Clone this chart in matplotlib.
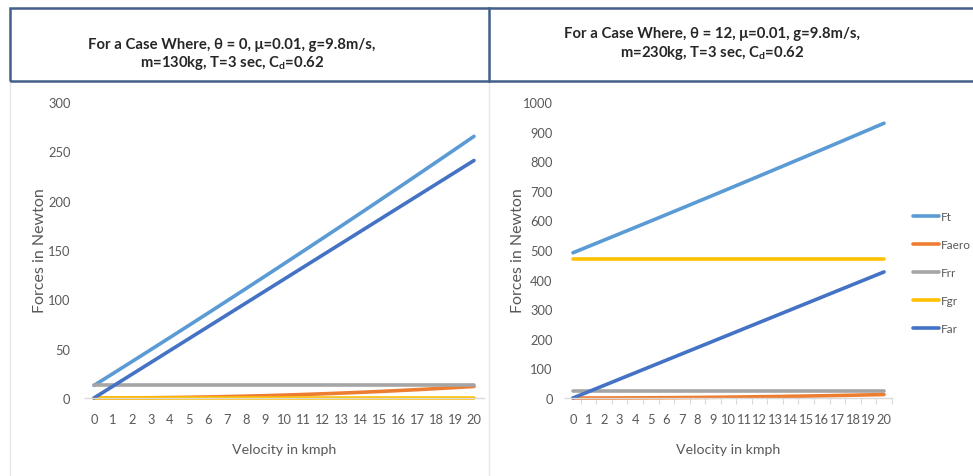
import matplotlib
matplotlib.use("Agg")
import matplotlib.pyplot as plt
from matplotlib.patches import Rectangle
from matplotlib.lines import Line2D
from matplotlib.ticker import FixedLocator

plt.rcParams['font.family'] = ['Lato', 'DejaVu Sans']
plt.rcParams['mathtext.fontset'] = 'custom'
plt.rcParams['mathtext.rm'] = 'Lato'
plt.rcParams['mathtext.bf'] = 'Lato:bold'

# Velocity in kmph (category axis)
velocity = list(range(0, 21))

# Case 1: theta = 0, m = 130 kg
ft_1 = [12.74, 24.81, 36.93, 49.11, 61.36, 73.66, 86.01, 98.44, 110.92, 123.44,
        136.04, 148.70, 161.40, 174.17, 187.00, 199.89, 212.83, 225.84, 238.90,
        252.02, 265.20]
faero_1 = [0.00, 0.03, 0.12, 0.26, 0.47, 0.73, 1.05, 1.44, 1.88, 2.37, 2.93,
           3.55, 4.22, 4.95, 5.74, 6.59, 7.50, 8.47, 9.49, 10.58, 11.72]
frr_1 = [12.74] * 21
fgr_1 = [0.0] * 21
far_1 = [0.00, 12.04, 24.07, 36.11, 48.15, 60.19, 72.22, 84.26, 96.30, 108.33,
         120.37, 132.41, 144.44, 156.48, 168.52, 180.56, 192.59, 204.63, 216.67,
         228.70, 240.74]

# Case 2: theta = 12, m = 230 kg
ft_2 = [490.67, 512.00, 533.38, 554.82, 576.33, 597.88, 619.50, 641.18, 662.92,
        684.71, 706.56, 728.48, 750.45, 772.47, 794.56, 816.70, 838.91, 861.18,
        883.49, 905.88, 928.32]
faero_2 = [0.00, 0.03, 0.12, 0.26, 0.47, 0.73, 1.05, 1.44, 1.88, 2.37, 2.93,
           3.55, 4.22, 4.95, 5.74, 6.59, 7.50, 8.47, 9.49, 10.58, 11.72]
frr_2 = [22.05] * 21
fgr_2 = [468.62] * 21
far_2 = [0.00, 21.30, 42.59, 63.89, 85.19, 106.48, 127.78, 149.07, 170.37,
         191.67, 212.96, 234.26, 255.56, 276.85, 298.15, 319.44, 340.74, 362.04,
         383.33, 404.63, 425.93]

series_names = ["Ft", "Faero", "Frr", "Fgr", "Far"]
series_colors = ["#5B9BD5", "#ED7D31", "#A5A5A5", "#FFC000", "#4472C4"]

title_1 = ["For a Case Where, \u03b8 = 0, \u03bc=0.01, g=9.8m/s,",
           r"m=130kg, T=3 sec, C$_{\mathbf{d}}$=0.62"]
title_2 = ["For a Case Where, \u03b8 = 12, \u03bc=0.01, g=9.8m/s,",
           r"m=230kg, T=3 sec, C$_{\mathbf{d}}$=0.62"]

W, H = 973, 477
fig = plt.figure(figsize=(W / 100, H / 100), dpi=100)
fig.patch.set_facecolor("white")

TXT = "#595959"
AXC = "#D9D9D9"
HDR = "#44608A"


def px_axes(x0, y_top, x1, y_bot):
    return fig.add_axes([x0 / W, 1 - y_bot / H, (x1 - x0) / W, (y_bot - y_top) / H])


def fx(x):
    return x / W


def fy(y):
    return 1 - y / H


# Header boxes
fig.patches.append(Rectangle((fx(10), fy(82)), fx(975) - fx(10), fy(9) - fy(82),
                             transform=fig.transFigure, fill=False,
                             edgecolor=HDR, linewidth=1.8, zorder=5))
fig.lines.append(Line2D([fx(489), fx(489)], [fy(9), fy(82)],
                        transform=fig.transFigure, color=HDR, linewidth=1.8, zorder=5))
# Panel separators below header
fig.lines.append(Line2D([fx(10), fx(10)], [fy(82), 0], transform=fig.transFigure,
                        color="#E6E6E6", linewidth=1.0))
fig.lines.append(Line2D([fx(489), fx(489)], [fy(82), 0], transform=fig.transFigure,
                        color="#E6E6E6", linewidth=1.0))

for (cx, y1, y2), lines in zip([(232, 45, 63), (712, 34, 53)], [title_1, title_2]):
    fig.text(fx(cx), fy(y1), lines[0], ha="center", va="center",
             fontsize=10.7, fontweight="bold", color="#262626")
    fig.text(fx(cx), fy(y2), lines[1], ha="center", va="center",
             fontsize=10.7, fontweight="bold", color="#262626")


def style_axes(ax, ymax, ystep, ypad, minor_ticks, ylab_x):
    ax.set_xlim(-0.5, 20.5)
    ax.set_ylim(0, ymax)
    ax.set_xticks(velocity)
    ax.set_xticklabels([str(v) for v in velocity])
    ax.set_yticks(list(range(0, ymax + 1, ystep)))
    for s in ["top", "right", "left"]:
        ax.spines[s].set_visible(False)
    ax.spines["bottom"].set_color(AXC)
    ax.spines["bottom"].set_linewidth(1.0)
    ax.tick_params(axis="x", length=0, pad=11, labelsize=9.3, labelcolor=TXT)
    ax.tick_params(axis="y", length=0, pad=ypad, labelsize=9.3, labelcolor=TXT)
    if minor_ticks:
        ax.xaxis.set_minor_locator(FixedLocator([v + 0.5 for v in velocity]))
        ax.tick_params(axis="x", which="minor", length=4, width=0.8, color=AXC)
    ax.set_xlabel("Velocity in kmph", fontsize=10.2, color=TXT)
    ax.xaxis.set_label_coords(0.5, -0.152)
    ax.set_ylabel("Forces in Newton", fontsize=11.5, color=TXT)
    ax.yaxis.label.set_verticalalignment("center")
    ax.yaxis.set_label_coords(ylab_x, 0.5)


# Left chart
ax1 = px_axes(84.5, 103, 483.5, 399)
for vals, name, col in zip([ft_1, faero_1, frr_1, fgr_1, far_1], series_names, series_colors):
    ax1.plot(velocity, vals, color=col, linewidth=2.6, label=name,
             solid_capstyle="round", clip_on=False)
style_axes(ax1, 300, 50, 10, False, -0.112)

# Right chart
ax2 = px_axes(565.2, 103, 891.8, 399)
for vals, name, col in zip([ft_2, faero_2, frr_2, fgr_2, far_2], series_names, series_colors):
    ax2.plot(velocity, vals, color=col, linewidth=2.6, label=name,
             solid_capstyle="round", clip_on=False)
style_axes(ax2, 1000, 100, 9, True, -0.145)

leg = ax2.legend(loc="upper left", bbox_to_anchor=(fx(913), fy(212)),
                 bbox_transform=fig.transFigure, frameon=False, fontsize=8.5,
                 handlelength=2.2, handletextpad=0.12, labelspacing=1.45,
                 borderpad=0, borderaxespad=0)
for t in leg.get_texts():
    t.set_color(TXT)
for h in leg.get_lines():
    h.set_linewidth(2.6)

fig.savefig("out.png", dpi=100, facecolor="white")
